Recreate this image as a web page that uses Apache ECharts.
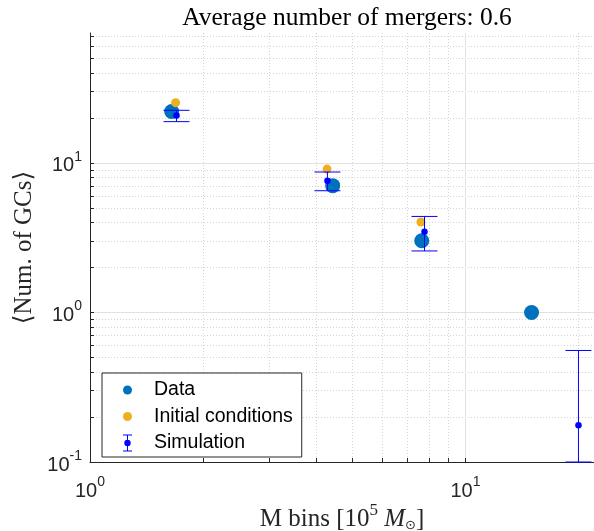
<!DOCTYPE html>
<html>
<head>
<meta charset="utf-8">
<script src="https://cdn.jsdelivr.net/npm/echarts@6/dist/echarts.min.js"></script>
<style>
html,body{margin:0;padding:0;background:#fff;}
#chart{width:594px;height:531px;}
</style>
</head>
<body>
<div id="chart"></div>
<script>
// ---- data ----
const dataX = [1.65, 4.43, 7.65, 15.0];
const dataY = [22.1, 7.05, 3.02, 1.0];
const initX = [1.69, 4.28, 7.61];
const initY = [25.3, 9.1, 4.03];
const simX = [1.70, 4.29, 7.78, 20.0];
const simY = [20.8, 7.6, 3.47, 0.176];
const simLow = [18.9, 6.52, 2.58, 0.1];
const simHigh = [22.5, 8.7, 4.39, 0.557];

// ---- axis ticks ----
const xMajor = [1, 10];
const xMinor = [2, 3, 4, 5, 6, 7, 8, 9, 20];
const yMajor = [0.1, 1, 10];
const yMinor = [0.2, 0.3, 0.4, 0.5, 0.6, 0.7, 0.8, 0.9, 2, 3, 4, 5, 6, 7, 8, 9, 20, 30, 40, 50, 60, 70];
const xRange = [1, 22];
const yRange = [0.1, 74];

const titleText = 'Average number of mergers: 0.6';

const AX = '#262626';
const SANS = 'Liberation Sans, Arial, Helvetica, sans-serif';
const SERIF = 'Liberation Serif, DejaVu Serif, serif';

function powLabel(v) {
  const e = Math.round(Math.log10(v));
  return '{b|10}{s|' + e + '}';
}
const powRich = {
  b: { fontFamily: SANS, fontSize: 20, color: AX, lineHeight: 26, verticalAlign: 'bottom' },
  s: { fontFamily: SANS, fontSize: 14, color: AX, lineHeight: 26, verticalAlign: 'top', padding: [0, 0, 9, 0] }
};

const gridMajor = { show: true, lineStyle: { color: '#e1e1e1', width: 1 } };
const gridMinor = { show: true, lineStyle: { color: '#d4d4d4', width: 1, type: [1, 2] } };

function helperAxis(range, vals, split) {
  return {
    type: 'log', logBase: 10, min: range[0], max: range[1],
    axisLine: { show: false }, axisLabel: { show: false },
    axisTick: { show: false, customValues: vals },
    splitLine: split
  };
}

const dataIcon = 'path://M0,0M43,17M17,8.5A4.5,4.5,0,1,1,26,8.5A4.5,4.5,0,1,1,17,8.5Z';
const simIcon = 'path://M0,0M43,17M21,0L22,0L22,17L21,17ZM17,0L26,0L26,1L17,1ZM17,16L26,16L26,17L17,17ZM18.3,8.5A3.2,3.2,0,1,1,24.7,8.5A3.2,3.2,0,1,1,18.3,8.5Z';

const chart = echarts.init(document.getElementById('chart'), null, { renderer: 'canvas' });
chart.setOption({
  animation: false,
  backgroundColor: '#fff',
  title: {
    text: titleText, left: 342, top: 0, textAlign: 'center',
    textStyle: { fontFamily: SERIF, fontSize: 25.5, fontWeight: 'normal', color: '#000' }
  },
  grid: { left: 90, right: 0, top: 33, bottom: 69, containLabel: false, outerBoundsMode: 'none' },
  legend: {
    orient: 'vertical', left: 102, top: 373,
    padding: [7, 9, 4, 4],
    itemWidth: 43, itemHeight: 17, itemGap: 6.5,
    borderColor: AX, borderWidth: 1, backgroundColor: '#fff',
    textStyle: { fontFamily: SANS, fontSize: 19.5, color: '#000' },
    data: [
      { name: 'Data', icon: dataIcon },
      { name: 'Initial conditions', icon: dataIcon },
      { name: 'Simulation', icon: simIcon }
    ]
  },
  xAxis: [
    {
      type: 'log', logBase: 10, min: xRange[0], max: xRange[1], position: 'bottom',
      axisLine: { show: true, lineStyle: { color: AX, width: 1 } },
      axisTick: { show: true, inside: true, length: 4, customValues: xMajor.concat(xMinor), lineStyle: { color: AX } },
      axisLabel: { show: true, customValues: xMajor, margin: 13, formatter: powLabel, rich: powRich },
      splitLine: { show: false },
      name: '{t|M bins [10}{s|5}{t| }{i|M}{u|⊙}{t|]}',
      nameLocation: 'middle', nameGap: 40, nameMoveOverlap: false,
      nameTextStyle: {
        rich: {
          t: { fontFamily: SERIF, fontSize: 25, color: '#262626', lineHeight: 30, verticalAlign: 'bottom' },
          i: { fontFamily: SERIF, fontSize: 25, fontStyle: 'italic', color: '#262626', lineHeight: 30, verticalAlign: 'bottom' },
          s: { fontFamily: SERIF, fontSize: 17, color: '#262626', lineHeight: 30, verticalAlign: 'top', padding: [0, 0, 11, 0] },
          u: { fontFamily: 'DejaVu Sans, sans-serif', fontSize: 13, color: '#262626', lineHeight: 30, verticalAlign: 'bottom', padding: [7, 0, 0, 0] }
        }
      }
    },
    helperAxis(xRange, xMinor, gridMinor),
    helperAxis(xRange, [10], gridMajor)
  ],
  yAxis: [
    {
      type: 'log', logBase: 10, min: yRange[0], max: yRange[1], position: 'left',
      axisLine: { show: true, lineStyle: { color: AX, width: 1 } },
      axisTick: { show: true, inside: true, length: 4, customValues: yMajor.concat(yMinor), lineStyle: { color: AX } },
      axisLabel: { show: true, customValues: yMajor, margin: 8, formatter: powLabel, rich: powRich },
      splitLine: { show: false },
      name: '⟨Num. of GCs⟩',
      nameLocation: 'middle', nameGap: 53, nameMoveOverlap: false,
      nameTextStyle: { fontFamily: SERIF, fontSize: 25, color: '#262626' }
    },
    helperAxis(yRange, yMinor, gridMinor),
    helperAxis(yRange, [1, 10], gridMajor)
  ],
  series: [
    {
      name: 'Data', type: 'scatter', xAxisIndex: 0, yAxisIndex: 0, z: 3,
      symbol: 'circle', symbolSize: 15,
      itemStyle: { color: '#0072BD', opacity: 1 },
      data: dataX.map((x, i) => [x, dataY[i]])
    },
    {
      name: 'Initial conditions', type: 'scatter', xAxisIndex: 0, yAxisIndex: 0, z: 4,
      symbol: 'circle', symbolSize: 9,
      itemStyle: { color: '#EDB120', opacity: 1 },
      data: initX.map((x, i) => [x, initY[i]])
    },
    {
      name: 'Simulation', type: 'scatter', xAxisIndex: 0, yAxisIndex: 0, z: 6,
      symbol: 'circle', symbolSize: 6.5,
      itemStyle: { color: '#0000FF', opacity: 1 },
      data: simX.map((x, i) => [x, simY[i]])
    },
    {
      name: 'Simulation', type: 'custom', xAxisIndex: 0, yAxisIndex: 0, z: 5,
      itemStyle: { color: '#0000FF' },
      encode: { x: 0, y: [1, 2] },
      data: simX.map((x, i) => [x, simLow[i], simHigh[i]]),
      renderItem: function (params, api) {
        const x = api.value(0);
        const lo = api.coord([x, api.value(1)]);
        const hi = api.coord([x, api.value(2)]);
        const w = 13;
        const st = { stroke: '#0000FF', lineWidth: 1, fill: null };
        return {
          type: 'group',
          children: [
            { type: 'line', shape: { x1: lo[0], y1: lo[1], x2: hi[0], y2: hi[1] }, style: st },
            { type: 'line', shape: { x1: hi[0] - w, y1: hi[1], x2: hi[0] + w, y2: hi[1] }, style: st },
            { type: 'line', shape: { x1: lo[0] - w, y1: lo[1], x2: lo[0] + w, y2: lo[1] }, style: st }
          ]
        };
      }
    }
  ]
});
</script>
</body>
</html>
